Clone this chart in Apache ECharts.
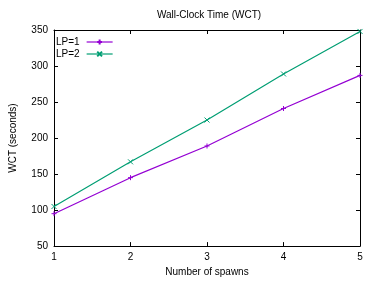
<!DOCTYPE html>
<html>
<head>
<meta charset="utf-8">
<script src="https://cdn.jsdelivr.net/npm/echarts@6/dist/echarts.min.js"></script>
<style>
  html, body { margin: 0; padding: 0; background: #fff; }
  #chart { width: 378px; height: 282px; }
</style>
</head>
<body>
<div id="chart"></div>
<script>
// values
const spawns = [1, 2, 3, 4, 5]
const lp1 = [95, 145, 189, 241, 287]
const lp2 = [105, 167, 225, 289, 348]
const seriesNames = ['LP=1', 'LP=2']
const xTicks = [1, 2, 3, 4, 5]
const yTicks = [50, 100, 150, 200, 250, 300, 350]

const FONT = 'Liberation Sans, Arial, sans-serif'
const PLUS = 'path://M0,5L10,5M5,0L5,10'
const CROSS = 'path://M0,0L10,10M10,0L0,10'

const chart = echarts.init(document.getElementById('chart'))

const toPairs = ys => spawns.map((x, i) => [x, ys[i]])

const axisCommon = {
    axisLine: { show: true, onZero: false, lineStyle: { color: '#000', width: 1 } },
    axisTick: { show: true, inside: true, length: 4, lineStyle: { color: '#000' } },
    splitLine: { show: false }
}

chart.setOption({
    animation: false,
    title: {
        text: 'Wall-Clock Time (WCT)',
        left: 204,
        top: 5,
        textAlign: 'center',
        textStyle: { fontFamily: FONT, fontSize: 10, fontWeight: 'normal', color: '#000' }
    },
    legend: {
        data: seriesNames,
        left: 51,
        top: 32,
        orient: 'vertical',
        align: 'right',
        itemWidth: 26,
        itemHeight: 6,
        itemGap: 2,
        lineStyle: { width: 1.2 },
        textStyle: { fontFamily: FONT, fontSize: 10, color: '#000', padding: [0, 2, 0, 0] }
    },
    grid: { left: 48, right: 18, top: 30, bottom: 32 },
    xAxis: [
        {
            ...axisCommon,
            type: 'value',
            min: 1,
            max: 5,
            interval: 1,
            name: 'Number of spawns',
            nameLocation: 'middle',
            nameGap: 17,
            nameTextStyle: { fontFamily: FONT, fontSize: 10, color: '#000' },
            axisLabel: { fontFamily: FONT, fontSize: 10, color: '#000', margin: 6,
                formatter: v => xTicks.includes(v) ? String(v) : '' }
        },
        {
            ...axisCommon,
            type: 'value',
            position: 'top',
            min: 1,
            max: 5,
            interval: 1,
            axisLabel: { show: false }
        }
    ],
    yAxis: [
        {
            ...axisCommon,
            type: 'value',
            min: 50,
            max: 350,
            interval: 50,
            name: 'WCT (seconds)',
            nameLocation: 'middle',
            nameGap: 36,
            nameTextStyle: { fontFamily: FONT, fontSize: 10, color: '#000' },
            axisLabel: { fontFamily: FONT, fontSize: 10, color: '#000', margin: 6,
                formatter: v => yTicks.includes(v) ? String(v) : '' }
        },
        {
            ...axisCommon,
            type: 'value',
            position: 'right',
            min: 50,
            max: 350,
            interval: 50,
            axisLabel: { show: false }
        }
    ],
    series: [
        {
            name: seriesNames[0],
            type: 'line',
            data: toPairs(lp1),
            symbol: PLUS,
            symbolSize: 5,
            lineStyle: { color: '#9400d3', width: 1.2 },
            itemStyle: { color: '#9400d3', borderColor: '#9400d3', borderWidth: 1 }
        },
        {
            name: seriesNames[1],
            type: 'line',
            data: toPairs(lp2),
            symbol: CROSS,
            symbolSize: 5,
            lineStyle: { color: '#009e73', width: 1.2 },
            itemStyle: { color: '#009e73', borderColor: '#009e73', borderWidth: 1 }
        }
    ]
})
</script>
</body>
</html>
